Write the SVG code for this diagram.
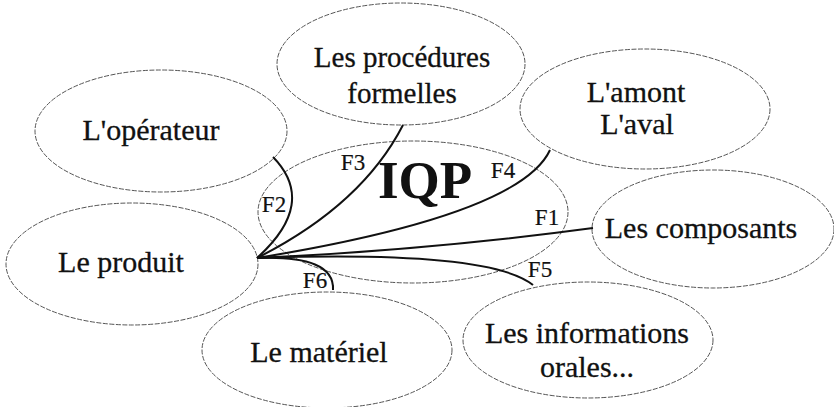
<svg xmlns="http://www.w3.org/2000/svg" width="834" height="407" viewBox="0 0 834 407">
<style>
.node ellipse{fill:none;stroke:#555;stroke-width:1;stroke-dasharray:5 1.5}
.t{font-family:'Liberation Serif','Times New Roman',serif;font-size:30px;fill:#111;stroke:#111;stroke-width:0.3;text-anchor:middle}
.f{font-family:'Liberation Serif','Times New Roman',serif;font-size:23px;fill:#111;stroke:#111;stroke-width:0.2;text-anchor:middle}
.q{font-family:'Liberation Serif','Times New Roman',serif;font-size:53px;font-weight:bold;fill:#111;text-anchor:middle}
.c path{fill:none;stroke:#111;stroke-width:2}
</style>
<rect width="834" height="407" fill="#fff"/>
<g id="node-iqp" class="node">
<ellipse cx="413" cy="212" rx="155" ry="71"/>
<text class="q" x="425" y="198">IQP</text>
</g>
<g id="node-procedures" class="node">
<ellipse cx="401" cy="64" rx="124" ry="61"/>
<text class="t" x="402" y="67" style="font-size:29px">Les procédures</text>
<text class="t" x="402" y="103" style="font-size:29px">formelles</text>
</g>
<g id="node-operateur" class="node">
<ellipse cx="161" cy="131" rx="126" ry="61"/>
<text class="t" x="151" y="140">L'opérateur</text>
</g>
<g id="node-amont" class="node">
<ellipse cx="645" cy="109" rx="125" ry="60"/>
<text class="t" x="636" y="102">L'amont</text>
<text class="t" x="637" y="134">L'aval</text>
</g>
<g id="node-composants" class="node">
<ellipse cx="713" cy="229" rx="121" ry="59"/>
<text class="t" x="701" y="238">Les composants</text>
</g>
<g id="node-produit" class="node">
<ellipse cx="132" cy="264" rx="126" ry="61"/>
<text class="t" x="121" y="272">Le produit</text>
</g>
<g id="node-materiel" class="node">
<ellipse cx="327" cy="350" rx="125" ry="58"/>
<text class="t" x="319" y="362">Le matériel</text>
</g>
<g id="node-informations" class="node">
<ellipse cx="588" cy="340" rx="125" ry="58"/>
<text class="t" x="587" y="343">Les informations</text>
<text class="t" x="587" y="377">orales...</text>
</g>
<g id="connectors" class="c">
<path d="M257,258 Q318,203 273,157"/>
<path d="M257,258 Q362,205 403,125"/>
<path d="M257,258 Q520,215 550,150"/>
<path d="M257,258 Q430,250 593,228"/>
<path d="M257,258 Q490,250 533,285"/>
<path d="M257,258 Q335,255 333,290"/>
</g>
<g id="labels">
<text class="f" x="274" y="212">F2</text>
<text class="f" x="353" y="170">F3</text>
<text class="f" x="503" y="178">F4</text>
<text class="f" x="547" y="225">F1</text>
<text class="f" x="540" y="277">F5</text>
<text class="f" x="315" y="288">F6</text>
</g>
</svg>
